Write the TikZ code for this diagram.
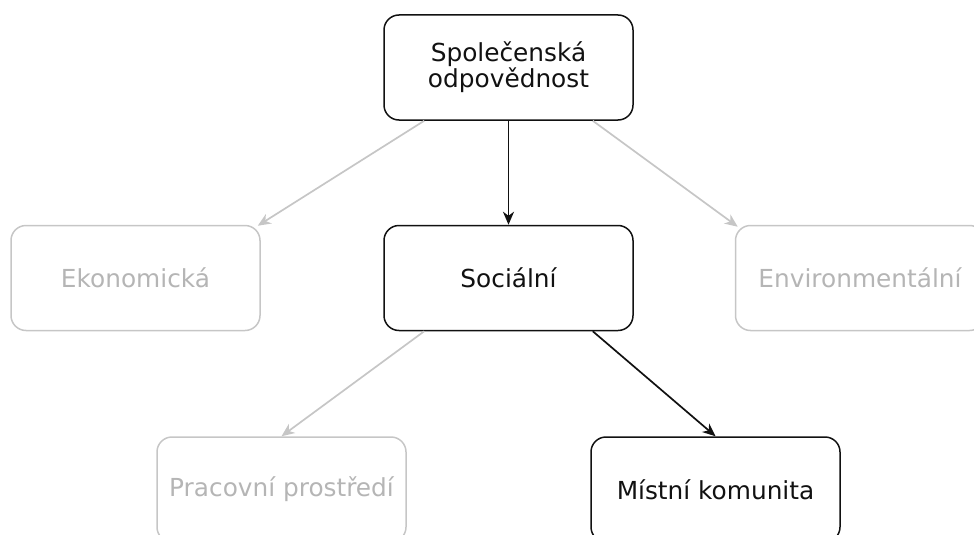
\documentclass[tikz,border=0pt]{standalone}
\usepackage{fontspec}
\setmainfont{DejaVu Sans}
\usetikzlibrary{arrows.meta,calc}
\definecolor{lg}{HTML}{C6C6C6}
\definecolor{lgt}{HTML}{B5B5B5}
\definecolor{dk}{HTML}{111111}
\begin{document}
\begin{tikzpicture}[x=1pt,y=-1pt,
  box/.style={rounded corners=15pt, minimum width=249pt, minimum height=105pt,
    inner sep=0pt, align=center, font=\fontsize{24.8}{23}\selectfont, line width=1.5pt},
  dark/.style={box, draw=dk, text=dk},
  light/.style={box, draw=lg, text=lgt},
  darr/.style={-{Stealth[length=13pt,width=11pt,inset=4pt]}, line width=1.7pt, dk},
  larr/.style={-{Stealth[length=13pt,width=11pt,inset=4pt]}, line width=1.7pt, lg}]
\useasboundingbox (0,0) rectangle (974,535);
\clip (0,0) rectangle (974,535);
\node[dark] (csr) at (508.5,67.5) {Společenská\\odpovědnost};
\node[light] (eko) at (135.5,278) {Ekonomická};
\node[dark] (soc) at (508.5,278) {Sociální};
\node[light] (env) at (860,278) {Environmentální};
\node[light] (prac) at (281.5,489.5) {Pracovní prostředí};
\node[dark] (mist) at (715.5,489.5) {Místní komunita};
\draw[darr] (csr.south) -- (soc.north);
\draw[larr] ($(csr.south west)+(41,0)$) -- ($(eko.north east)+(-3,1)$);
\draw[larr] ($(csr.south east)+(-41,0)$) -- ($(env.north west)+(3,2)$);
\draw[larr] ($(soc.south west)+(41,0)$) -- (prac.north);
\draw[darr] ($(soc.south east)+(-41,0)$) -- (mist.north);
\end{tikzpicture}
\end{document}
